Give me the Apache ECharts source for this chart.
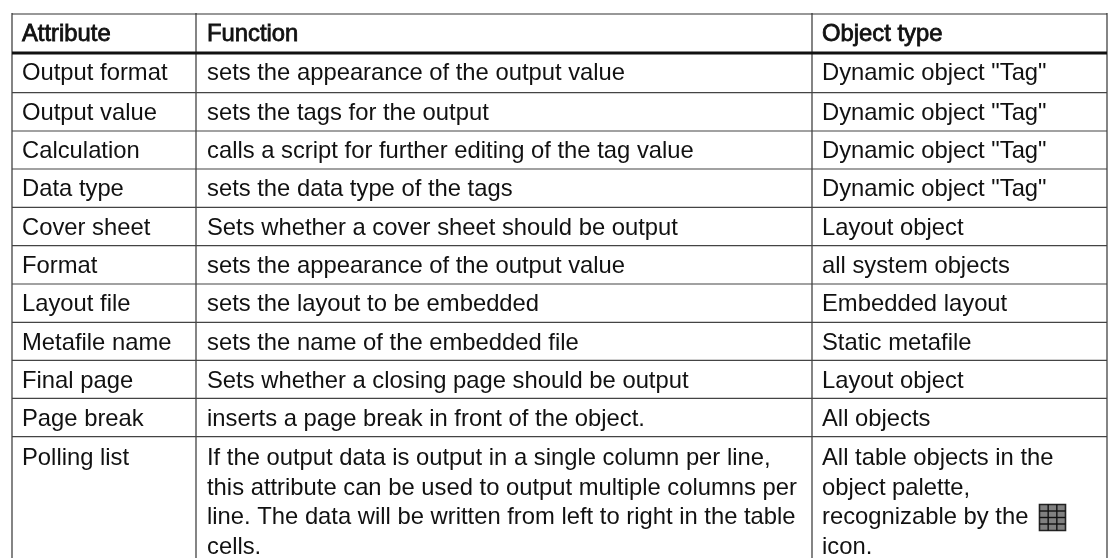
<!DOCTYPE html>
<html><head><meta charset="utf-8">
<style>html,body{margin:0;padding:0;background:#fff}#c{width:1109px;height:558px}</style>
<script src="https://cdn.jsdelivr.net/npm/echarts@6/dist/echarts.min.js"></script>
</head><body><div id="c"></div>
<script>
const headers = ["Attribute","Function","Object type"];
const attributes = ["Output format","Output value","Calculation","Data type","Cover sheet","Format","Layout file","Metafile name","Final page","Page break","Polling list"];
const functions = [
 "sets the appearance of the output value","sets the tags for the output","calls a script for further editing of the tag value","sets the data type of the tags","Sets whether a cover sheet should be output","sets the appearance of the output value","sets the layout to be embedded","sets the name of the embedded file","Sets whether a closing page should be output","inserts a page break in front of the object.",
 "If the output data is output in a single column per line,\nthis attribute can be used to output multiple columns per\nline. The data will be written from left to right in the table\ncells."];
const objectTypes = ['Dynamic object "Tag"','Dynamic object "Tag"','Dynamic object "Tag"','Dynamic object "Tag"',"Layout object","all system objects","Embedded layout","Static metafile","Layout object","All objects","All table objects in the\nobject palette,\nrecognizable by the       \nicon."];
const colX = [12,196,812,1107];
const textX = [22,207,822];
const rowY = [14,53,92.7,131,169,207.3,245.7,284,322.3,360.3,398.3,436.7];
const FONT = '"Liberation Sans",Arial,sans-serif', SIZE = 23.8, LH = 29.4;
const g = [];
const vline = x => ({type:'line',shape:{x1:x,y1:rowY[0]-1,x2:x,y2:558},style:{stroke:'#333',lineWidth:1.2}});
const hline = (y,w,c) => ({type:'line',shape:{x1:colX[0],y1:y,x2:colX[3],y2:y},style:{stroke:c,lineWidth:w}});
colX.forEach(x=>g.push(vline(x)));
g.push(hline(rowY[0],1.2,'#333'));
rowY.slice(1).forEach((y,i)=>g.push(i===0?hline(y,3,'#111'):hline(y,1.2,'#444')));
const txt=(x,y,t,b)=>g.push({type:'text',x,y,style:{text:t,fill:'#111',font:SIZE+'px '+FONT,lineHeight:LH,textVerticalAlign:'top',stroke:b?'#111':undefined,lineWidth:b?0.8:0}});
headers.forEach((h,i)=>txt(textX[i],rowY[0]+6,h,true));
attributes.forEach((a,r)=>{
 const y=rowY[r+1]+(r===10?7.5:6);
 txt(textX[0],y,a); txt(textX[1],y,functions[r]); txt(textX[2],y,objectTypes[r]);
});
const ix=1039.5,iy=504.5,iw=26,ih=26;
g.push({type:'rect',shape:{x:ix,y:iy,width:iw,height:ih},style:{fill:'#808080',stroke:'#222',lineWidth:1.6}});
for(let k=1;k<4;k++){
 g.push({type:'line',shape:{x1:ix,y1:iy+k*ih/4,x2:ix+iw,y2:iy+k*ih/4},style:{stroke:'#111',lineWidth:1.4}});}
for(let k=1;k<3;k++){
 g.push({type:'line',shape:{x1:ix+k*iw/3,y1:iy,x2:ix+k*iw/3,y2:iy+ih},style:{stroke:'#111',lineWidth:1.4}});}
const chart=echarts.init(document.getElementById('c'));
chart.setOption({animation:false,graphic:{elements:g}});
</script></body></html>
